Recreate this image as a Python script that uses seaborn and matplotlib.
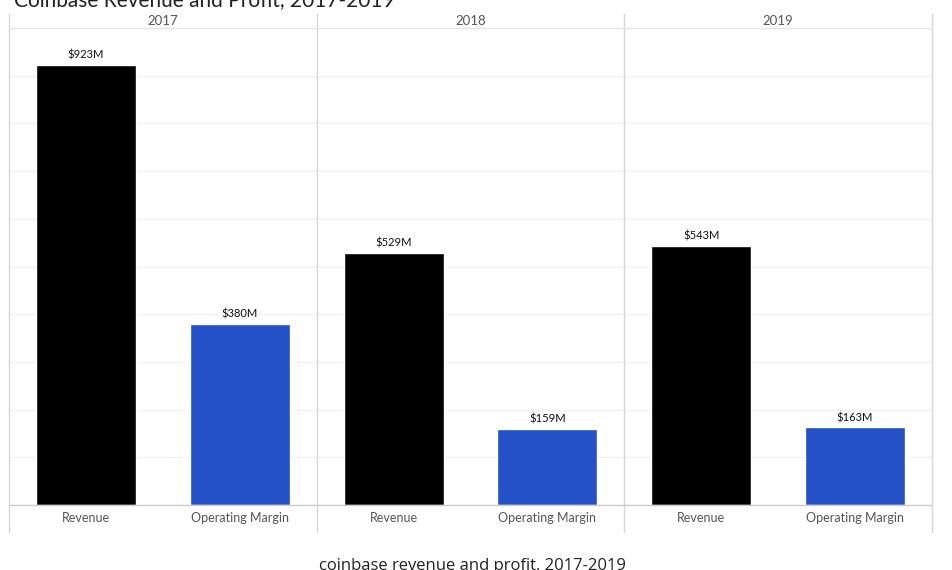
import matplotlib
matplotlib.use("Agg")
import matplotlib.pyplot as plt
import pandas as pd
import seaborn as sns
from matplotlib.lines import Line2D

years = ["2017", "2018", "2019"]
metrics = ["Revenue", "Operating Margin"]
revenue = [923, 529, 543]
operating_margin = [380, 159, 163]
colors = ["#000000", "#2450c8"]

data = pd.DataFrame({
    "Year": [y for y in years for _ in metrics],
    "Metric": metrics * len(years),
    "Value": [v for pair in zip(revenue, operating_margin) for v in pair],
})

sns.set_style("white")
plt.rcParams["font.family"] = ["Lato", "DejaVu Sans"]

fig = plt.figure(figsize=(9.53, 5.7), dpi=100)
W, H = 953, 570
left, right, top, bottom = 9, 932, 28, 505
pw = (right - left) / 3

for i, year in enumerate(years):
    ax = fig.add_axes([(left + i * pw) / W, 1 - bottom / H, pw / W, (bottom - top) / H])
    sub = data[data["Year"] == year]
    sns.barplot(data=sub, x="Metric", y="Value", hue="Metric", palette=colors,
                width=0.65, saturation=1, ax=ax, legend=False)
    ax.set_ylim(0, 1000)
    ax.set_xlim(-0.5, 1.5)
    ax.set_yticks(range(0, 1001, 100))
    ax.yaxis.grid(True, color="#f2f2f2", linewidth=1)
    ax.set_axisbelow(True)
    ax.set_yticklabels([])
    ax.tick_params(axis="y", length=0)
    ax.tick_params(axis="x", length=0, labelsize=9, labelcolor="#555555", pad=5)
    ax.set_xlabel("")
    ax.set_ylabel("")
    for s in ax.spines.values():
        s.set_visible(False)
    for c in ax.containers:
        ax.bar_label(c, labels=["$%dM" % v for v in c.datavalues], padding=3,
                     fontsize=8, color="#111111")

# panel frame lines
for i in range(4):
    x = (left + i * pw) / W
    fig.add_artist(Line2D([x, x], [1 - 14 / H, 1 - 532 / H], color="#d6d6d6", linewidth=1))
fig.add_artist(Line2D([left / W, right / W], [1 - bottom / H] * 2, color="#cccccc", linewidth=1))
fig.add_artist(Line2D([left / W, right / W], [1 - top / H] * 2, color="#e6e6e6", linewidth=1))
for i, year in enumerate(years):
    fig.text((left + (i + 0.5) * pw) / W, 1 - 21 / H, year, ha="center", va="center",
             fontsize=9.5, color="#555555")

fig.text(14 / W, 1 - 0 / H, "Coinbase Revenue and Profit, 2017-2019", ha="left", va="center",
         fontsize=15, color="#222222")
fig.text(472 / W, 1 - 566 / H, "coinbase revenue and profit, 2017-2019", ha="center",
         va="center", fontsize=12, color="#222222", family=["Open Sans", "DejaVu Sans"])

fig.savefig("out.png", dpi=100)
